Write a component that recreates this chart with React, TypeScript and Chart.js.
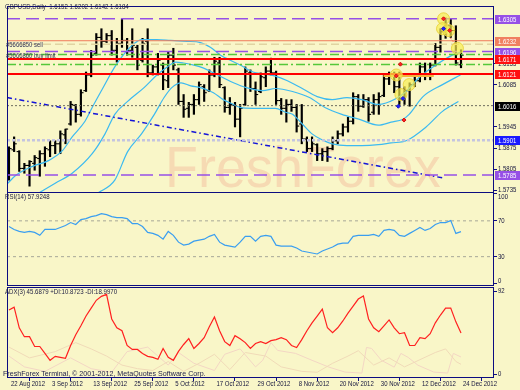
import React, { useEffect, useRef } from 'react';
import { Chart, registerables } from 'chart.js';

Chart.register(...registerables);

// ------------------------------------------------------------------ data
const DATE_LABELS = ['22 Aug 2012', '3 Sep 2012', '13 Sep 2012', '25 Sep 2012', '5 Oct 2012', '17 Oct 2012',
  '29 Oct 2012', '8 Nov 2012', '20 Nov 2012', '30 Nov 2012', '12 Dec 2012', '24 Dec 2012'];
const DATE_INDEX = [0, 8, 16, 24, 32, 40, 48, 56, 64, 72, 80, 88];

const BAR_OPEN = [1.5784, 1.5869, 1.5863, 1.5807, 1.5817, 1.5824, 1.5840, 1.5856, 1.5869, 1.5883,
  1.5889, 1.5919, 1.5955, 1.6017, 1.5987, 1.6066, 1.6118, 1.6190, 1.6243, 1.6230,
  1.6249, 1.6200, 1.6223, 1.6233, 1.6200, 1.6210, 1.6167, 1.6230, 1.6125, 1.6145,
  1.6151, 1.6099, 1.6184, 1.6135, 1.6030, 1.6007, 1.6020, 1.6036, 1.6079, 1.6066,
  1.6118, 1.6158, 1.6076, 1.6010, 1.6017, 1.5971, 1.6020, 1.6125, 1.6073, 1.6063,
  1.6109, 1.6131, 1.6125, 1.6033, 1.6007, 1.6020, 1.6010, 1.5955, 1.5905, 1.5873,
  1.5886, 1.5856, 1.5863, 1.5873, 1.5899, 1.5922, 1.5945, 1.5964, 1.6046, 1.6014,
  1.6036, 1.5994, 1.6036, 1.6050, 1.6105, 1.6118, 1.6079, 1.6036, 1.6066, 1.6086,
  1.6099, 1.6145, 1.6118, 1.6151, 1.6210, 1.6262, 1.6282, 1.6266, 1.6152];
const BAR_HIGH = [1.5879, 1.5912, 1.5866, 1.5824, 1.5833, 1.5850, 1.5866, 1.5879, 1.5899, 1.5899,
  1.5932, 1.5938, 1.6030, 1.6020, 1.6069, 1.6128, 1.6200, 1.6256, 1.6272, 1.6256,
  1.6266, 1.6240, 1.6305, 1.6240, 1.6272, 1.6217, 1.6240, 1.6272, 1.6151, 1.6190,
  1.6158, 1.6194, 1.6207, 1.6141, 1.6053, 1.6027, 1.6053, 1.6095, 1.6086, 1.6135,
  1.6177, 1.6177, 1.6079, 1.6043, 1.6027, 1.6020, 1.6145, 1.6135, 1.6095, 1.6125,
  1.6145, 1.6174, 1.6131, 1.6040, 1.6036, 1.6036, 1.6020, 1.6020, 1.5912, 1.5912,
  1.5889, 1.5873, 1.5879, 1.5912, 1.5932, 1.5955, 1.5977, 1.6059, 1.6053, 1.6053,
  1.6043, 1.6053, 1.6059, 1.6118, 1.6128, 1.6128, 1.6128, 1.6079, 1.6092, 1.6112,
  1.6158, 1.6158, 1.6158, 1.6223, 1.6272, 1.6308, 1.6305, 1.6282, 1.6202];
const BAR_LOW = [1.5768, 1.5863, 1.5797, 1.5791, 1.5748, 1.5801, 1.5781, 1.5814, 1.5846, 1.5856,
  1.5856, 1.5889, 1.5951, 1.5961, 1.5981, 1.6063, 1.6112, 1.6184, 1.6210, 1.6226,
  1.6184, 1.6161, 1.6210, 1.6184, 1.6177, 1.6135, 1.6161, 1.6112, 1.6118, 1.6118,
  1.6069, 1.6076, 1.6135, 1.6020, 1.5977, 1.5977, 1.5987, 1.6020, 1.6030, 1.6063,
  1.6112, 1.6076, 1.5994, 1.5987, 1.5945, 1.5912, 1.6017, 1.6063, 1.6020, 1.6059,
  1.6079, 1.6118, 1.6020, 1.5987, 1.5961, 1.5997, 1.5928, 1.5889, 1.5863, 1.5863,
  1.5833, 1.5833, 1.5830, 1.5869, 1.5889, 1.5915, 1.5928, 1.5955, 1.5997, 1.6010,
  1.5964, 1.5987, 1.5987, 1.6046, 1.6086, 1.6059, 1.6020, 1.6020, 1.6014, 1.6079,
  1.6095, 1.6102, 1.6102, 1.6148, 1.6194, 1.6240, 1.6243, 1.6151, 1.6142];
const BAR_CLOSE = [1.5873, 1.5889, 1.5807, 1.5817, 1.5830, 1.5843, 1.5856, 1.5873, 1.5883, 1.5889,
  1.5922, 1.5938, 1.6020, 1.5987, 1.6059, 1.6118, 1.6184, 1.6243, 1.6230, 1.6249,
  1.6200, 1.6223, 1.6233, 1.6200, 1.6217, 1.6151, 1.6223, 1.6125, 1.6145, 1.6167,
  1.6102, 1.6184, 1.6151, 1.6030, 1.6004, 1.6020, 1.6036, 1.6086, 1.6059, 1.6118,
  1.6164, 1.6086, 1.6010, 1.6020, 1.5971, 1.6007, 1.6131, 1.6073, 1.6053, 1.6112,
  1.6131, 1.6125, 1.6033, 1.6007, 1.6020, 1.6010, 1.5948, 1.5905, 1.5873, 1.5889,
  1.5856, 1.5863, 1.5873, 1.5899, 1.5922, 1.5945, 1.5964, 1.6046, 1.6014, 1.6036,
  1.5987, 1.6036, 1.6046, 1.6105, 1.6118, 1.6079, 1.6036, 1.6066, 1.6086, 1.6099,
  1.6145, 1.6118, 1.6151, 1.6210, 1.6262, 1.6282, 1.6266, 1.6158, 1.6184];

// moving-average lines: [bar index, price]
const MA_FAST = [[-0.38, 1.5755], [1.35, 1.5784], [4.6, 1.5814], [7.7, 1.5833], [10.4, 1.5866], [12.3, 1.5912],
  [14.8, 1.5964], [16.2, 1.6010], [18.1, 1.6069], [20.6, 1.6145], [22.5, 1.6190], [24.4, 1.6223], [25.8, 1.6236],
  [28.8, 1.6236], [31.5, 1.6233], [34.6, 1.6230], [37.3, 1.6226], [39.2, 1.6210], [41.2, 1.6184], [43.1, 1.6167],
  [45.0, 1.6151], [47.5, 1.6128], [49.4, 1.6122], [51.7, 1.6115], [54.2, 1.6099], [57.1, 1.6073], [60.0, 1.6046],
  [62.9, 1.6036], [65.8, 1.6043], [68.7, 1.6036], [71.9, 1.6020], [75.4, 1.6040], [77.3, 1.6063], [79.8, 1.6109],
  [83.1, 1.6151], [86.3, 1.6184], [87.9, 1.6194]];
const MA_MID = [[5.8, 1.5725], [9.0, 1.5758], [12.3, 1.5791], [16.2, 1.5856], [18.7, 1.5922], [20.6, 1.5987],
  [23.1, 1.6030], [26.3, 1.6076], [28.8, 1.6118], [30.8, 1.6145], [32.5, 1.6161], [34.0, 1.6158], [36.0, 1.6151],
  [37.9, 1.6141], [39.8, 1.6125], [41.7, 1.6109], [43.7, 1.6092], [46.2, 1.6076], [49.4, 1.6066], [51.9, 1.6073],
  [55.2, 1.6063], [58.5, 1.6043], [61.5, 1.6010], [64.8, 1.5987], [68.1, 1.5971], [71.9, 1.5951], [74.4, 1.5961],
  [76.7, 1.5971], [77.9, 1.5987], [80.6, 1.6046], [84.4, 1.6086], [87.9, 1.6118]];
const MA_SLOW = [[17.3, 1.5725], [20.6, 1.5768], [23.1, 1.5863], [25.8, 1.5922], [28.3, 1.5987], [30.2, 1.6043],
  [31.7, 1.6076], [33.5, 1.6092], [35.4, 1.6082], [37.3, 1.6076], [39.8, 1.6059], [41.7, 1.6036], [43.7, 1.6020],
  [45.0, 1.6010], [47.5, 1.6007], [51.9, 1.6007], [53.8, 1.5994], [55.2, 1.5987], [57.1, 1.5955], [59.0, 1.5922],
  [61.0, 1.5902], [62.9, 1.5889], [65.8, 1.5883], [68.7, 1.5883], [71.9, 1.5886], [74.4, 1.5892], [77.3, 1.5899],
  [81.2, 1.5945], [84.4, 1.5997], [87.5, 1.6030]];

const TREND_LINE = [[-0.38, 1.6043], [84.6, 1.5775]];

const LEVEL_PRICES = [1.6305, 1.6232, 1.6220, 1.6196, 1.6186, 1.6171, 1.6153, 1.6121, 1.6016, 1.5901, 1.5785];
const BOX_PRICES = [1.6305, 1.6232, 1.6196, 1.6171, 1.6121, 1.6016, 1.5901, 1.5785];
const MAIN_TICKS = [1.5735, 1.5805, 1.5875, 1.5945, 1.6085, 1.6155];

const ORDER_MARKERS = [[75.4, 1.6118], [77.9, 1.6086], [76.3, 1.6053], [84.6, 1.6305], [84.4, 1.6272], [85.6, 1.6266], [87.3, 1.6207]];
const RED_MARKS = [[84.6, 1.6305], [85.8, 1.6266], [75.4, 1.6115], [76.2, 1.6154], [76.9, 1.5968]];
const BLUE_MARKS = [[84.6, 1.6272], [76.7, 1.6040], [75.8, 1.6014]];
const ORDER_BAND = [[72.9, 1.6116], [82.7, 1.6116]];
const ORDER_LINK = [[84.6, 1.6272], [87.3, 1.6210]];

const RSI_VALUES = [63.7, 60.4, 58.2, 57.1, 58.2, 57.1, 53.8, 60.4, 60.4, 60.4,
  62.6, 64.8, 68.1, 65.9, 71.4, 72.5, 74.7, 75.8, 78.0, 76.9,
  74.7, 73.6, 73.6, 72.5, 67.0, 67.0, 63.7, 57.1, 56.0, 53.8,
  49.5, 58.2, 53.8, 46.2, 42.9, 44.0, 47.3, 48.4, 49.5, 52.7,
  54.9, 46.2, 42.9, 41.8, 40.7, 46.2, 52.7, 52.7, 47.3, 52.7,
  53.8, 52.7, 42.9, 41.8, 41.8, 41.8, 39.6, 36.3, 35.2, 34.1,
  33.0, 36.3, 38.5, 40.7, 44.0, 45.1, 45.1, 52.7, 53.8, 53.8,
  53.8, 54.9, 52.7, 59.3, 60.4, 59.3, 53.8, 52.7, 56.0, 59.3,
  62.6, 59.3, 61.5, 65.9, 68.1, 68.1, 70.3, 56.0, 57.9];
const RSI_LEVELS = [70, 30];
const RSI_TICKS = [0, 30, 70, 100];

const ADX_VALUES = [71.2, 74.5, 51.5, 41.6, 41.6, 30.7, 30.7, 23.0, 15.3, 19.7,
  18.6, 17.5, 31.8, 43.8, 53.7, 64.6, 73.4, 82.1, 86.5, 88.7,
  61.3, 51.5, 48.2, 31.8, 27.4, 27.4, 23.0, 19.7, 18.6, 16.4,
  28.5, 18.6, 15.3, 25.2, 32.9, 39.4, 28.5, 34.0, 40.5, 52.6,
  63.5, 48.2, 36.1, 31.8, 42.7, 39.4, 35.0, 28.5, 34.0, 36.1,
  34.0, 37.2, 38.3, 40.5, 38.3, 31.8, 29.6, 38.3, 48.2, 57.0,
  64.6, 72.3, 51.5, 46.0, 51.5, 59.1, 67.9, 75.6, 83.5, 87.0,
  61.3, 51.5, 47.1, 53.7, 60.2, 51.5, 44.9, 46.0, 31.8, 31.8,
  40.5, 39.4, 44.9, 57.0, 65.7, 73.4, 73.4, 58.1, 45.7];
const PLUS_DI = [[0, 30], [4, 18], [9, 25], [13, 35], [16, 28], [19, 20], [22, 10], [25, 6], [28, 4], [31, 14],
  [34, 3], [37, 12], [40, 22], [43, 5], [46, 24], [50, 20], [53, 8], [57, 3], [60, 2], [63, 12], [66, 20],
  [68, 26], [71, 10], [74, 18], [77, 8], [80, 16], [83, 24], [85, 28], [87, 14], [88, 10.87]];
const MINUS_DI = [[0, 20], [3, 8], [7, 3], [12, 18], [16, 6], [20, 2], [23, 25], [27, 30], [31, 10], [33, 24],
  [36, 12], [40, 4], [42, 22], [45, 28], [48, 8], [49.4, 15.3], [51, 35], [52.3, 26.3], [55.8, 23], [59, 15.3],
  [62.3, 7.7], [65.4, 2.2], [68.7, 1.1], [69.6, 29.6], [70.6, 28.5], [72.5, 15.3], [75, 7.7], [76.3, 23],
  [77.7, 18.6], [79.6, 9.9], [82.7, 2.2], [85.4, 1.1], [86.5, 23], [88, 19.0]];
const ADX_TICKS = [0, 92];

const TITLE_TEXT = 'GBPUSD,Daily  1.6152 1.6202 1.6142 1.6184';
const RSI_TEXT = 'RSI(14) 57.9248';
const ADX_TEXT = 'ADX(3) 45.6879 +DI:10.8723 -DI:18.9970';
const ORDER_TEXTS = ['#5666850 sell', '#5666860 buy limit'];
const FOOTER_TEXT = 'FreshForex Terminal, \u00a9 2001-2012, MetaQuotes Software Corp.';
const WATERMARK_TEXT = 'FreshForex';

// ------------------------------------------------------------------ styles
const BG = '#f9f6c8';
const FRAME = '#0c0c80';
const AXIS_TEXT = '#14143c';
const FONT = '"Liberation Sans", Arial, sans-serif';
const PURPLE = '#9650e6';
const CYAN = '#3cbaf0';
const X_MIN = -0.3846;
const X_MAX = 94.423;

const LEVEL_STYLES = [
  { c: PURPLE, d: [13, 6], w: 1.5 },
  { c: '#f07a5a', d: [], w: 1 },
  { c: '#e0d4a2', d: [8, 4], w: 1.5 },
  { c: PURPLE, d: [13, 6], w: 1.5 },
  { c: '#55c83a', d: [9, 3, 2, 3], w: 1.5 },
  { c: '#ff0000', d: [], w: 2 },
  { c: '#55c83a', d: [9, 3, 2, 3], w: 1.5 },
  { c: '#ff0000', d: [], w: 2 },
  { c: '#6e6e60', d: [2, 2], w: 1 },
  { c: '#c4c4e0', d: [3, 2], w: 2.5 },
  { c: PURPLE, d: [13, 6], w: 1.5 },
];
const BOX_COLORS = [PURPLE, '#f08060', PURPLE, '#ff1010', '#ff1010', '#000000', '#1a1aff', PURPLE];

function sq(ctx: CanvasRenderingContext2D, text: string, x: number, y: number, size: number, color: string, sx: number) {
  ctx.save();
  ctx.translate(x, y);
  ctx.scale(sx, 1);
  ctx.font = `${size}px ${FONT}`;
  ctx.fillStyle = color;
  ctx.textAlign = 'left';
  ctx.textBaseline = 'middle';
  ctx.fillText(text, 0, 0);
  ctx.restore();
}

const mt4Plugin = {
  id: 'mt4',
  afterDraw(chart: any) {
    const { ctx, chartArea } = chart;
    const xs = chart.scales.x, ym = chart.scales.yMain, yr = chart.scales.yRsi, ya = chart.scales.yAdx;
    ctx.save();
    // panel frames
    ctx.strokeStyle = FRAME;
    ctx.lineWidth = 1;
    const L = Math.round(chartArea.left) + 0.5;
    const R = Math.round(chartArea.right) - 0.5;
    const panes = [[ym.top - 1, ym.bottom], [yr.top - 1, yr.bottom], [ya.top + 1, ya.bottom]];
    for (const [t, b] of panes) {
      const tt = Math.round(t) + 0.5, bb = Math.round(b) - 0.5;
      ctx.strokeRect(L, tt, R - L, bb - tt);
    }
    // price ticks
    for (const v of MAIN_TICKS) sq(ctx, v.toFixed(4), 498, ym.getPixelForValue(v), 7.5, AXIS_TEXT, 0.8);
    // boxed level labels
    BOX_PRICES.forEach((p, i) => {
      const y = Math.round(ym.getPixelForValue(p));
      ctx.fillStyle = BOX_COLORS[i];
      ctx.fillRect(495, y - 4, 25, 9);
      sq(ctx, p.toFixed(4), 498, y + 0.5, 7.5, '#ffffff', 0.8);
    });
    // rsi / adx ticks
    for (const v of RSI_TICKS) {
      const y = Math.min(Math.max(yr.getPixelForValue(v), yr.top + 4), yr.bottom - 5);
      sq(ctx, String(v), 498, y, 7.5, AXIS_TEXT, 0.8);
    }
    for (const v of ADX_TICKS) {
      const y = Math.min(Math.max(ya.getPixelForValue(v), ya.top + 5), ya.bottom - 4);
      sq(ctx, String(v), 498, y, 7.5, AXIS_TEXT, 0.8);
    }
    // date labels
    DATE_INDEX.forEach((d, i) => {
      sq(ctx, DATE_LABELS[i], xs.getPixelForValue(d) + 2, 384, 7.5, AXIS_TEXT, 0.8);
    });
    ctx.restore();
  },
};

const pts = (arr: number[][]) => arr.map(([x, y]) => ({ x, y }));
const hline = (y: number) => [{ x: X_MIN, y }, { x: X_MAX, y }];

function yAxis(weight: number, min: number, max: number, ticks: number[]) {
  return {
    type: 'linear', position: 'right', stack: 'panes', stackWeight: weight, min, max, clip: true,
    grid: { display: true, drawOnChartArea: false, drawTicks: true, tickLength: 3, color: FRAME, lineWidth: 1 },
    border: { display: false },
    ticks: { display: false },
    afterBuildTicks: (s: any) => { s.ticks = ticks.map((v) => ({ value: v })); },
    afterFit: (s: any) => { s.width = 26; },
  };
}

function ChartView() {
  const ref = useRef<HTMLCanvasElement>(null);
  useEffect(() => {
    if (!ref.current) return;
    const idx = BAR_HIGH.map((_, i) => i);
    const main = { xAxisID: 'x', yAxisID: 'yMain' };
    const lineBase = { type: 'line', pointRadius: 0, fill: false, tension: 0 };
    const datasets: any[] = [];
    // markers (top)
    datasets.push({ ...main, type: 'scatter', data: pts(RED_MARKS), pointStyle: 'rectRot', pointRadius: 2, backgroundColor: '#ff2020', borderColor: '#d01010', borderWidth: 1 });
    datasets.push({ ...main, type: 'scatter', data: pts(BLUE_MARKS), pointStyle: 'rectRot', pointRadius: 2, backgroundColor: '#2020ff', borderColor: '#1010c0', borderWidth: 1 });
    datasets.push({ ...main, type: 'scatter', data: pts(ORDER_MARKERS), pointStyle: 'circle', pointRadius: 6, backgroundColor: 'rgba(248,238,80,0.68)', borderColor: 'rgba(232,210,60,0.9)', borderWidth: 1 });
    datasets.push({ ...main, ...lineBase, data: pts(ORDER_LINK), borderColor: '#ff2020', borderWidth: 1, borderDash: [1, 2] });
    // levels
    LEVEL_PRICES.forEach((p, i) => {
      const s = LEVEL_STYLES[i];
      datasets.push({ ...main, ...lineBase, data: hline(p), borderColor: s.c, borderWidth: s.w, borderDash: s.d });
    });
    datasets.push({ ...main, ...lineBase, data: pts(ORDER_BAND), borderColor: '#f2b43c', borderWidth: 3 });
    datasets.push({ ...main, ...lineBase, data: pts(TREND_LINE), borderColor: '#1414d8', borderWidth: 1.5, borderDash: [5, 3, 1.5, 3] });
    // moving averages
    for (const ma of [MA_FAST, MA_MID, MA_SLOW]) {
      datasets.push({ ...main, ...lineBase, data: pts(ma), borderColor: CYAN, borderWidth: 1.2, cubicInterpolationMode: 'monotone' });
    }
    // OHLC bars
    datasets.push({ ...main, type: 'scatter', data: idx.map((i) => ({ x: i - 0.26, y: BAR_OPEN[i] })), pointStyle: 'line', pointRadius: 1.3, borderColor: '#000', borderWidth: 1.1 });
    datasets.push({ ...main, type: 'scatter', data: idx.map((i) => ({ x: i + 0.26, y: BAR_CLOSE[i] })), pointStyle: 'line', pointRadius: 1.3, borderColor: '#000', borderWidth: 1.1 });
    datasets.push({ ...main, type: 'bar', data: idx.map((i) => ({ x: i, y: [BAR_LOW[i], BAR_HIGH[i]] })), backgroundColor: '#000', barThickness: 1.5, grouped: false, borderWidth: 0 });
    // RSI
    const rsi = { xAxisID: 'x', yAxisID: 'yRsi' };
    datasets.push({ ...rsi, ...lineBase, data: idx.map((i) => ({ x: i, y: RSI_VALUES[i] })), borderColor: '#3a9ef0', borderWidth: 1.2 });
    for (const lv of RSI_LEVELS) datasets.push({ ...rsi, ...lineBase, data: hline(lv), borderColor: '#a8a898', borderWidth: 1, borderDash: [3, 3] });
    // ADX
    const adx = { xAxisID: 'x', yAxisID: 'yAdx' };
    datasets.push({ ...adx, ...lineBase, data: idx.map((i) => ({ x: i, y: ADX_VALUES[i] })), borderColor: '#ff2020', borderWidth: 1.2 });
    datasets.push({ ...adx, ...lineBase, data: pts(PLUS_DI), borderColor: '#f0dab8', borderWidth: 1 });
    datasets.push({ ...adx, ...lineBase, data: pts(MINUS_DI), borderColor: '#f3d6c4', borderWidth: 1 });

    const chart = new Chart(ref.current, {
      type: 'line',
      data: { datasets },
      plugins: [mt4Plugin],
      options: {
        responsive: false,
        animation: false,
        devicePixelRatio: 1,
        events: [],
        layout: { padding: { left: 1, top: 1, right: 0, bottom: 0 } },
        plugins: { legend: { display: false }, tooltip: { enabled: false } },
        scales: {
          x: {
            type: 'linear', position: 'bottom', min: X_MIN, max: X_MAX, offset: false,
            grid: { display: true, drawOnChartArea: false, drawTicks: true, tickLength: 3, color: FRAME },
            border: { display: false },
            ticks: { display: false },
            afterBuildTicks: (s: any) => { s.ticks = DATE_INDEX.map((v) => ({ value: v })); },
            afterFit: (s: any) => { s.height = 12; },
          },
          yMain: yAxis(189, 1.572525, 1.634431, MAIN_TICKS),
          yRsi: yAxis(94.5, -2.75, 101.1, RSI_TICKS),
          yAdx: yAxis(93.5, -4.38, 98.02, ADX_TICKS),
        },
      } as any,
    } as any);
    return () => chart.destroy();
  }, []);
  return <canvas ref={ref} width={520} height={390} style={{ position: 'absolute', left: 0, top: 0, width: 520, height: 390, display: 'block' }} />;
}

function Txt(props: { text: string; left: number; cy: number; size: number; sx: number; color: string }) {
  const { text, left, cy, size, sx, color } = props;
  return (
    <div style={{
      position: 'absolute', left, top: cy - size * 0.6, fontFamily: FONT, fontSize: size,
      lineHeight: `${size * 1.2}px`, color, whiteSpace: 'pre', transform: `scaleX(${sx})`, transformOrigin: '0 50%',
    }}>{text}</div>
  );
}

export default function App() {
  return (
    <div style={{ position: 'absolute', left: 0, top: 0, width: 520, height: 390, background: BG, overflow: 'hidden' }}>
      <div style={{
        position: 'absolute', left: 165, top: 138, fontFamily: FONT, fontSize: 58, lineHeight: '58px',
        color: '#f6dab3', whiteSpace: 'nowrap', transform: 'scaleX(0.93)', transformOrigin: '0 0',
      }}>{WATERMARK_TEXT}</div>
      <ChartView />
      <Txt text={TITLE_TEXT} left={5} cy={7} size={8} sx={0.76} color="#1c1c40" />
      <Txt text={ORDER_TEXTS[0]} left={6} cy={44.5} size={8} sx={0.74} color="#34345a" />
      <Txt text={ORDER_TEXTS[1]} left={6} cy={56} size={8} sx={0.74} color="#34345a" />
      <Txt text={RSI_TEXT} left={5} cy={197} size={8} sx={0.76} color="#1c1c40" />
      <Txt text={ADX_TEXT} left={5} cy={292} size={8} sx={0.76} color="#1c1c40" />
      <Txt text={FOOTER_TEXT} left={3} cy={373.5} size={8} sx={0.89} color="#1c1c48" />
    </div>
  );
}
